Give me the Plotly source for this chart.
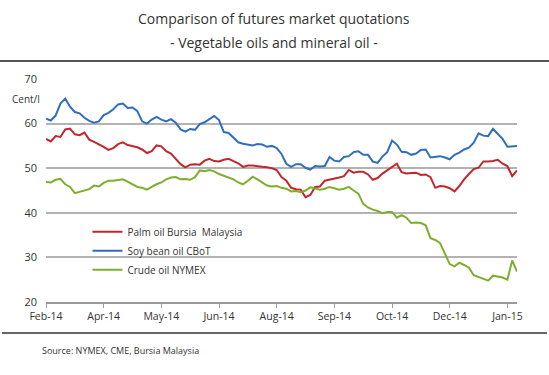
import plotly.graph_objects as go

# ---- data ----
tick_labels = ["Feb-14", "Apr-14", "May-14", "Jun-14", "Aug-14", "Sep-14", "Oct-14", "Dec-14", "Jan-15"]
points_per_label = 12

palm_oil = [56.6, 56.0, 57.2, 57.0, 58.7, 58.9, 57.6, 57.4, 58.0, 56.4,
            55.9, 55.4, 54.8, 54.1, 54.5, 55.4, 55.8, 55.2, 54.9, 54.7,
            54.2, 53.4, 53.8, 55.1, 54.9, 53.8, 53.3, 52.1, 50.9, 50.2,
            50.8, 50.9, 50.8, 51.7, 52.1, 51.6, 51.5, 51.9, 52.1, 51.6,
            51.1, 50.3, 50.6, 50.6, 50.4, 50.3, 50.2, 50.0, 49.6, 48.0,
            47.2, 45.6, 45.3, 45.2, 43.5, 44.0, 45.8, 45.9, 47.2, 47.4,
            47.6, 47.9, 48.2, 49.6, 49.0, 49.2, 49.2, 48.6, 47.4, 47.8,
            48.8, 49.5, 50.4, 51.0, 49.1, 48.8, 48.9, 49.0, 48.5, 48.6,
            48.0, 45.6, 46.0, 45.9, 45.5, 44.8, 46.0, 47.5, 48.7, 49.8,
            50.1, 51.5, 51.5, 51.6, 51.9, 51.0, 50.5, 48.2, 49.5]

soy_bean_oil = [61.1, 60.7, 61.8, 64.5, 65.6, 63.8, 62.6, 62.3, 61.3, 60.6,
                60.2, 60.5, 61.9, 62.4, 63.2, 64.3, 64.5, 63.5, 63.6, 62.8,
                60.5, 60.0, 60.9, 61.5, 60.9, 60.5, 61.0, 60.2, 58.7, 58.2,
                58.8, 58.6, 59.9, 60.3, 61.0, 61.7, 60.8, 58.1, 57.9, 56.9,
                55.8, 55.5, 55.3, 55.1, 55.4, 55.3, 54.8, 55.0, 54.5, 53.2,
                51.0, 50.3, 50.9, 50.9, 50.1, 49.7, 50.5, 50.4, 50.5, 52.5,
                51.7, 51.5, 52.5, 52.7, 53.6, 53.8, 53.0, 53.0, 51.5, 51.2,
                52.6, 53.6, 56.2, 55.3, 53.7, 53.6, 53.0, 53.3, 54.1, 54.2,
                52.4, 52.5, 52.7, 52.4, 52.0, 53.0, 53.5, 54.2, 54.6, 55.7,
                57.8, 57.3, 57.2, 58.8, 57.6, 56.6, 54.8, 54.9, 55.0]

crude_oil = [46.9, 46.8, 47.4, 47.6, 46.4, 45.8, 44.4, 44.7, 45.1, 45.3,
             46.1, 45.9, 46.7, 47.2, 47.2, 47.4, 47.5, 47.0, 46.3, 45.8,
             45.6, 45.2, 45.8, 46.4, 46.8, 47.5, 47.9, 48.0, 47.5, 47.6,
             47.4, 48.0, 49.5, 49.3, 49.6, 49.3, 48.7, 48.3, 48.0, 47.5,
             46.8, 46.4, 47.2, 48.1, 47.5, 46.8, 46.1, 45.9, 46.0, 45.6,
             45.4, 44.8, 44.9, 44.6, 45.0, 45.7, 45.5, 45.2, 45.4, 45.8,
             45.5, 45.2, 45.4, 45.8, 45.0, 44.3, 42.0, 41.2, 40.7, 40.4,
             39.9, 40.2, 40.2, 38.9, 39.5, 38.9, 37.7, 37.8, 37.7, 37.2,
             34.3, 33.9, 33.2, 30.8, 28.5, 28.0, 28.8, 28.3, 27.7, 26.0,
             25.6, 25.3, 24.8, 25.9, 25.7, 25.5, 25.0, 29.3, 26.8]

series_names = ["Palm oil Bursia  Malaysia", "Soy bean oil CBoT", "Crude oil NYMEX"]
series_colors = ["#c1272d", "#2f6ebf", "#7fae2e"]

y_ticks = [20, 30, 40, 50, 60, 70]

# ---- figure ----
x_idx = list(range(len(palm_oil)))
tick_vals = [i * points_per_label for i in range(len(tick_labels))]

fig = go.Figure()
for name, vals, col in zip(series_names, [palm_oil, soy_bean_oil, crude_oil], series_colors):
    fig.add_trace(go.Scatter(x=x_idx, y=vals, mode="lines", name=name,
                             line=dict(color=col, width=2)))

FONT = "Open Sans"
TXT = "#333333"

fig.update_layout(
    width=549, height=375,
    margin=dict(l=46, r=32, t=79, b=73),
    paper_bgcolor="white", plot_bgcolor="white",
    font=dict(family=FONT, color=TXT, size=11),
    showlegend=True,
    legend=dict(x=0.088, y=0.38, xanchor="left", yanchor="top",
                bgcolor="rgba(0,0,0,0)", font=dict(size=10, color=TXT),
                tracegroupgap=0, itemwidth=30),
    xaxis=dict(range=[0, len(palm_oil) - 1], tickvals=tick_vals, ticktext=tick_labels,
               showgrid=False, zeroline=False, showline=True, linecolor="#9a9a9a",
               linewidth=1.5, ticks="outside", ticklen=4, tickcolor="#9a9a9a",
               tickfont=dict(size=10.5, color=TXT)),
    yaxis=dict(range=[20, 70], tickvals=y_ticks, showgrid=True, gridcolor="#b3b3b3",
               gridwidth=1.5, zeroline=False, showline=False, ticks="",
               tickfont=dict(size=11, color=TXT), ticklabelstandoff=8),
    annotations=[
        dict(text="Comparison of futures market quotations", xref="paper", yref="paper",
             x=0.485, y=(302 - 18) / 223, xanchor="center", yanchor="middle",
             showarrow=False, font=dict(size=14, color=TXT, family=FONT)),
        dict(text="- Vegetable oils and mineral oil -", xref="paper", yref="paper",
             x=0.485, y=(302 - 43) / 223, xanchor="center", yanchor="middle",
             showarrow=False, font=dict(size=14, color=TXT, family=FONT)),
        dict(text="Cent/l", xref="paper", yref="paper",
             x=-0.008, y=(302 - 99) / 223, xanchor="right", yanchor="middle",
             showarrow=False, font=dict(size=10, color=TXT, family=FONT)),
        dict(text="Source: NYMEX, CME, Bursia Malaysia", xref="paper", yref="paper",
             x=(40 - 46) / 471, y=(302 - 350) / 223, xanchor="left", yanchor="middle",
             showarrow=False, font=dict(size=9, color=TXT, family=FONT)),
    ],
    shapes=[
        dict(type="line", xref="paper", yref="paper", x0=-46 / 471, x1=(549 - 46) / 471,
             y0=(302 - 61) / 223, y1=(302 - 61) / 223, line=dict(color="#555555", width=2)),
        dict(type="line", xref="paper", yref="paper", x0=-44 / 471, x1=(547 - 46) / 471,
             y0=(302 - 333) / 223, y1=(302 - 333) / 223, line=dict(color="#666666", width=2)),
    ],
)

fig.write_html("out.html", config={"displayModeBar": False},
               post_script="document.body.style.margin='0';")
